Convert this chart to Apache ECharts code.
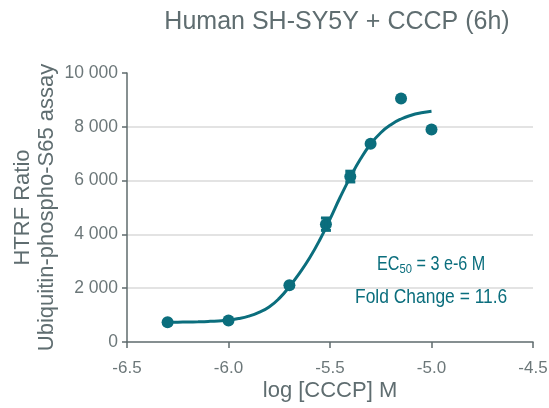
<!DOCTYPE html>
<html>
<head>
<meta charset="utf-8">
<script src="https://cdn.jsdelivr.net/npm/echarts@6/dist/echarts.min.js"></script>
<style>
  html, body { margin: 0; padding: 0; background: #ffffff; }
  #chart { width: 549px; height: 408px; }
</style>
</head>
<body>
<div id="chart"></div>
<script>
// Dose-response: measured points, fitted curve, and error bars
const doseLog = [-6.3, -6.0, -5.7, -5.52, -5.4, -5.3, -5.15, -5.0];
const htrfRatio = [730, 800, 2110, 4380, 6150, 7370, 9050, 7900];

const errDose = [-5.52, -5.4];
const errMean = [4380, 6150];
const errSize = [230, 200];

const fitDose = [-6.30, -6.25, -6.20, -6.15, -6.10, -6.05, -6.00, -5.95, -5.90,
                 -5.85, -5.80, -5.75, -5.70, -5.65, -5.60, -5.55, -5.50, -5.45,
                 -5.40, -5.35, -5.30, -5.25, -5.20, -5.15, -5.10, -5.05, -5.00];
const fitRatio = [735, 738, 743, 752, 765, 785, 815, 870, 960,
                  1100, 1300, 1620, 2060, 2560, 3130, 3800, 4570, 5380,
                  6130, 6800, 7360, 7780, 8080, 8290, 8430, 8520, 8580];

const xTicks = [-6.5, -6.0, -5.5, -5.0, -4.5];
const yTicks = [0, 2000, 4000, 6000, 8000, 10000];

const TEAL = '#0b6e7d';
const AXIS = '#5f6b6d';
const LABEL = '#6c7779';
const TITLE = '#5f6d70';
const FONT = "'Liberation Sans', Arial, Helvetica, sans-serif";

function fmtThousands(v) {
  return String(Math.round(v)).replace(/\B(?=(\d{3})+(?!\d))/g, ' ');
}

const chart = echarts.init(document.getElementById('chart'), null, { renderer: 'canvas' });

chart.setOption({
  backgroundColor: '#ffffff',
  animation: false,
  title: {
    text: 'Human SH-SY5Y + CCCP (6h)',
    left: 332,
    textAlign: 'center',
    top: 5,
    textStyle: { fontFamily: FONT, fontSize: 25, fontWeight: 'normal', color: TITLE }
  },
  grid: { left: 127, right: 16, top: 73, bottom: 66, outerBoundsMode: 'none' },
  xAxis: {
    type: 'value',
    min: xTicks[0],
    max: xTicks[xTicks.length - 1],
    interval: 0.5,
    name: 'log [CCCP] M',
    nameLocation: 'middle',
    nameGap: 38,
    nameMoveOverlap: false,
    nameTextStyle: { fontFamily: FONT, fontSize: 22, color: TITLE },
    axisLine: { onZero: false, lineStyle: { color: AXIS, width: 1.5 } },
    axisTick: { show: true, length: 6, lineStyle: { color: AXIS, width: 1.5 } },
    axisLabel: {
      margin: 18,
      fontFamily: FONT, fontSize: 17, color: LABEL,
      formatter: v => v.toFixed(1)
    },
    splitLine: { show: false }
  },
  yAxis: {
    type: 'value',
    min: yTicks[0],
    max: yTicks[yTicks.length - 1],
    interval: 2000,
    name: 'HTRF Ratio\nUbiquitin-phospho-S65 assay',
    nameLocation: 'middle',
    nameRotate: 90,
    nameGap: 68,
    nameMoveOverlap: false,
    nameTextStyle: { fontFamily: FONT, fontSize: 22, lineHeight: 24, color: TITLE, align: 'center' },
    axisLine: { show: true, lineStyle: { color: AXIS, width: 1.5 } },
    axisTick: { show: true, length: 5, lineStyle: { color: AXIS, width: 1.5 } },
    axisLabel: {
      margin: 9,
      fontFamily: FONT, fontSize: 17.5, color: LABEL,
      formatter: v => fmtThousands(v)
    },
    splitLine: { show: true, showMinLine: false, showMaxLine: false, lineStyle: { color: '#e3e3e3', width: 2 } }
  },
  series: [
    {
      name: 'fit',
      type: 'line',
      data: fitDose.map((x, i) => [x, fitRatio[i]]),
      smooth: true,
      showSymbol: false,
      lineStyle: { color: TEAL, width: 3 },
      z: 2
    },
    {
      name: 'points',
      type: 'scatter',
      data: doseLog.map((x, i) => [x, htrfRatio[i]]),
      symbol: 'circle',
      symbolSize: 12,
      itemStyle: { color: TEAL, opacity: 1 },
      z: 3
    },
    {
      name: 'error',
      type: 'custom',
      data: errDose.map((x, i) => [x, errMean[i] - errSize[i], errMean[i] + errSize[i]]),
      renderItem: function (params, api) {
        const x = api.value(0);
        const lo = api.coord([x, api.value(1)]);
        const hi = api.coord([x, api.value(2)]);
        const cap = 5;
        const st = { stroke: TEAL, lineWidth: 3 };
        return {
          type: 'group',
          children: [
            { type: 'line', shape: { x1: lo[0], y1: lo[1], x2: hi[0], y2: hi[1] }, style: st },
            { type: 'line', shape: { x1: lo[0] - cap, y1: lo[1], x2: lo[0] + cap, y2: lo[1] }, style: st },
            { type: 'line', shape: { x1: hi[0] - cap, y1: hi[1], x2: hi[0] + cap, y2: hi[1] }, style: st }
          ]
        };
      },
      z: 4
    }
  ],
  graphic: [
    {
      type: 'text',
      x: 377,
      y: 255,
      scaleX: 0.83,
      style: {
        text: '{m|EC}{s|50}{m| = 3 e-6 M}',
        align: 'left',
        verticalAlign: 'top',
        rich: {
          m: { fontFamily: FONT, fontSize: 19.5, lineHeight: 20, fill: TEAL },
          s: { fontFamily: FONT, fontSize: 13.5, lineHeight: 20, padding: [9, 0, 0, 0], fill: TEAL }
        }
      }
    },
    {
      type: 'text',
      x: 355,
      y: 297.5,
      scaleX: 0.83,
      style: {
        text: 'Fold Change = 11.6',
        align: 'left',
        verticalAlign: 'middle',
        fontFamily: FONT, fontSize: 21, fill: TEAL
      }
    }
  ]
});
</script>
</body>
</html>
